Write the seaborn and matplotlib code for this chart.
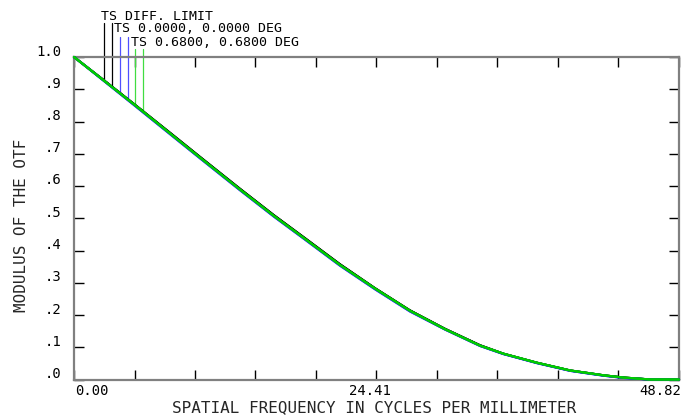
import numpy as np
import matplotlib
matplotlib.use("Agg")
import matplotlib.pyplot as plt
from matplotlib.transforms import ScaledTranslation
import seaborn as sns

# ---- data ----
freq = [0.0, 2.44, 4.88, 8.07, 10.17, 13.4, 16.14, 18.64, 21.47, 24.29, 27.12,
        29.94, 32.77, 34.65, 37.35, 40.03, 42.72, 44.33, 46.5, 48.82]
mtf_diff = [1.0, 0.927, 0.853, 0.755, 0.690, 0.591, 0.509, 0.438, 0.357, 0.283,
            0.214, 0.157, 0.106, 0.080, 0.052, 0.028, 0.013, 0.006, 0.0, 0.0]
mtf_field0 = [1.0, 0.925, 0.850, 0.751, 0.686, 0.587, 0.505, 0.434, 0.353, 0.280,
              0.211, 0.155, 0.104, 0.079, 0.051, 0.027, 0.012, 0.005, 0.0, 0.0]
mtf_field068 = [1.0, 0.926, 0.852, 0.753, 0.688, 0.589, 0.507, 0.436, 0.355, 0.282,
                0.213, 0.156, 0.105, 0.080, 0.052, 0.028, 0.013, 0.006, 0.0, 0.0]
series_labels = ["TS DIFF. LIMIT", "TS 0.0000, 0.0000 DEG", "TS 0.6800, 0.6800 DEG"]
x_max = 48.82
x_tick_labels = {0: "0.00", 5: "24.41", 10: "48.82"}
y_ticks = [0.0, 0.1, 0.2, 0.3, 0.4, 0.5, 0.6, 0.7, 0.8, 0.9, 1.0]
y_tick_labels = [".0", ".1", ".2", ".3", ".4", ".5", ".6", ".7", ".8", ".9", "1.0"]

# ---- style ----
sns.set_theme(style="white")
plt.rcParams["font.family"] = ["DejaVu Sans Mono", "DejaVu Sans"]

W, H = 681, 417
fig = plt.figure(figsize=(W / 100, H / 100), dpi=100)
ax = fig.add_axes([74 / W, 37.5 / H, 605 / W, 322.5 / H])

colors = ["black", "#2a2aff", "#00cc00"]
lead_colors = ["black", "#5050ff", "#40dd40"]
series = [mtf_diff, mtf_field0, mtf_field068]
for vals, c in zip(series, colors):
    for _ in range(2):  # tangential & sagittal overlap
        sns.lineplot(x=freq, y=vals, color=c, lw=1.6, ax=ax, clip_on=False,
                     zorder=3, estimator=None, sort=False)

ax.set_xlim(0, x_max)
ax.set_ylim(0, 1.0)

# ticks
xt = np.linspace(0, x_max, 11)
ax.set_xticks(xt)
ax.set_xticklabels([x_tick_labels.get(i, "") for i in range(11)])
ax.set_yticks(y_ticks)
ax.set_yticklabels(y_tick_labels)
ax.tick_params(axis="both", which="both", direction="in", length=7, width=1,
               color="black", top=True, right=True, bottom=True, left=True,
               labelsize=10, labelcolor="black")
ax.tick_params(axis="y", pad=9)
ax.tick_params(axis="x", pad=3)

for lab in ax.get_yticklabels():
    lab.set_transform(lab.get_transform() + ScaledTranslation(0, 7 / 100, fig.dpi_scale_trans))
xl = ax.get_xticklabels()
xl[0].set_ha("left")
xl[0].set_transform(xl[0].get_transform() + ScaledTranslation(1 / 100, 0, fig.dpi_scale_trans))
xl[5].set_transform(xl[5].get_transform() + ScaledTranslation(-7 / 100, 0, fig.dpi_scale_trans))
xl[10].set_ha("right")
xl[10].set_transform(xl[10].get_transform() + ScaledTranslation(2 / 100, 0, fig.dpi_scale_trans))

for s in ax.spines.values():
    s.set_color("#808080")
    s.set_linewidth(1.6)
ax.grid(False)

ax.set_xlabel("SPATIAL FREQUENCY IN CYCLES PER MILLIMETER", fontsize=11.5)
ax.xaxis.set_label_coords((374 - 74) / 605, (379.5 - 408) / 322.5)
ax.xaxis.label.set_va("center")
ax.set_ylabel("MODULUS OF THE OTF", fontsize=11.5)
ax.yaxis.set_label_coords((22 - 74) / 605, (379.5 - 225) / 322.5)
ax.yaxis.label.set_va("center")

# legend labels with leader lines (Zemax style)
text_pos = [(101, 10), (114, 22.5), (131, 35.5)]
lead_x = [(2.45, 3.09), (3.71, 4.33), (4.95, 5.57)]
lead_top = [1.105, 1.061, 1.024]
for lab, (px, py), xs, top, vals, c in zip(series_labels, text_pos, lead_x,
                                          lead_top, series, lead_colors):
    fig.text(px / W, 1 - py / H, lab, ha="left", va="top", fontsize=9.5, color="black")
    for xv in xs:
        yv = float(np.interp(xv, freq, vals))
        ax.plot([xv, xv], [yv, top], color=c, lw=0.9, clip_on=False, zorder=2)

fig.savefig("out.png", dpi=100)
